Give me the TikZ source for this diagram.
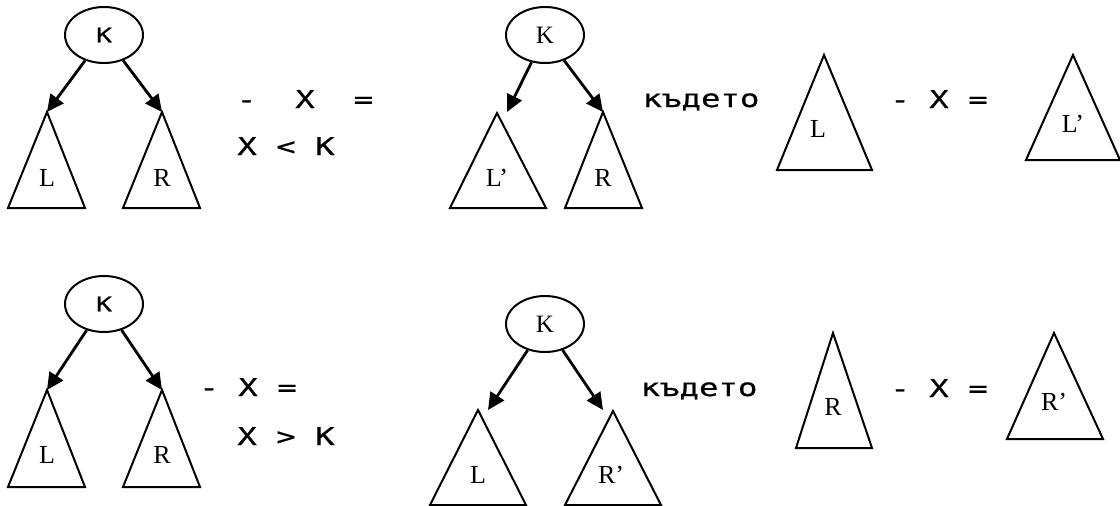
\documentclass[tikz,border=0pt]{standalone}
\usepackage{fontspec}
\setmainfont{Liberation Serif}
\newfontfamily\opfont[FakeStretch=1.32, FakeBold=0.6]{DejaVu Sans Mono}
\usetikzlibrary{arrows.meta, shapes.geometric}

\begin{document}
\begin{tikzpicture}[x=1pt, y=-1pt, line width=2pt,
    key/.style={draw, ellipse, minimum width=78pt, minimum height=56pt, inner sep=0pt, font=\fontsize{25}{25}\selectfont},
    keysans/.style={key, font=\opfont\fontsize{20}{20}\selectfont},
    sub/.style={anchor=base, inner sep=0pt, font=\fontsize{26}{26}\selectfont},
    op/.style={anchor=base, inner sep=0pt, font=\opfont\fontsize{24.5}{24.5}\selectfont},
    arr/.style={-{Triangle[length=17pt, width=16pt]}, line width=2.8pt}
  ]
  \useasboundingbox (0,0) rectangle (1120,506);

  % case X < K
  \node[keysans] (k1) at (104,35) {K};
  \coordinate (l1) at (47,112);
  \coordinate (r1) at (162,112);
  \draw (l1) -- (8,208) -- (85,208) -- cycle;
  \draw (r1) -- (123,208) -- (200,208) -- cycle;
  \node[sub] (l1txt) at (47,186) {L};
  \node[sub] (r1txt) at (162,186) {R};
  \draw[arr] (k1) -- (l1);
  \draw[arr] (k1) -- (r1);
  \node[op] (eq1) at (305,108) {-~~X~~=};
  \node[op] (cond1) at (286,155) {X < K};

  \node[key] (k2) at (545,35) {K};
  \coordinate (k2l) at (507,112);
  \coordinate (l2) at (497,113);
  \coordinate (r2) at (603,112);
  \draw (l2) -- (450,208) -- (546,208) -- cycle;
  \draw (r2) -- (565,208) -- (642,208) -- cycle;
  \node[sub] (l2txt) at (497,186) {L’};
  \node[sub] (r2txt) at (603,186) {R};
  \draw[arr] (k2) -- (k2l);
  \draw[arr] (k2) -- (r2);
  \node[op] (where1) at (701,107) {където};

  \coordinate (l3) at (824,55);
  \draw (l3) -- (777,170) -- (872,170) -- cycle;
  \node[sub] (l3txt) at (818,137) {L};
  \node[op] (eq2) at (939,108) {- X =};
  \coordinate (l4) at (1073,55);
  \draw (l4) -- (1026,160) -- (1120,160) -- cycle;
  \node[sub] (l4txt) at (1073,132) {L’};

  % case X > K
  \node[keysans] (k3) at (104,304) {K};
  \coordinate (l5) at (47,390);
  \coordinate (r5) at (162,390);
  \draw (l5) -- (8,487) -- (85,487) -- cycle;
  \draw (r5) -- (123,487) -- (200,487) -- cycle;
  \node[sub] (l5txt) at (47,463) {L};
  \node[sub] (r5txt) at (162,463) {R};
  \draw[arr] (k3) -- (l5);
  \draw[arr] (k3) -- (r5);
  \node[op] (eq3) at (248,396) {- X =};
  \node[op] (cond2) at (286,445) {X > K};

  \node[key] (k4) at (545,324) {K};
  \coordinate (k4l) at (488,410);
  \coordinate (k4r) at (603,410);
  \coordinate (l6) at (478,410);
  \coordinate (r6) at (613,411);
  \draw (l6) -- (430,505) -- (526,505) -- cycle;
  \draw (r6) -- (565,505) -- (661,505) -- cycle;
  \node[sub] (l6txt) at (478,483) {L};
  \node[sub] (r6txt) at (611,483) {R’};
  \draw[arr] (k4) -- (k4l);
  \draw[arr] (k4) -- (k4r);
  \node[op] (where2) at (699,396) {където};

  \coordinate (r7) at (833,333);
  \draw (r7) -- (796,448) -- (872,448) -- cycle;
  \node[sub] (r7txt) at (833,415) {R};
  \node[op] (eq4) at (939,397) {- X =};
  \coordinate (r8) at (1054,333);
  \draw (r8) -- (1007,439) -- (1103,439) -- cycle;
  \node[sub] (r8txt) at (1054,410) {R’};
\end{tikzpicture}
\end{document}
